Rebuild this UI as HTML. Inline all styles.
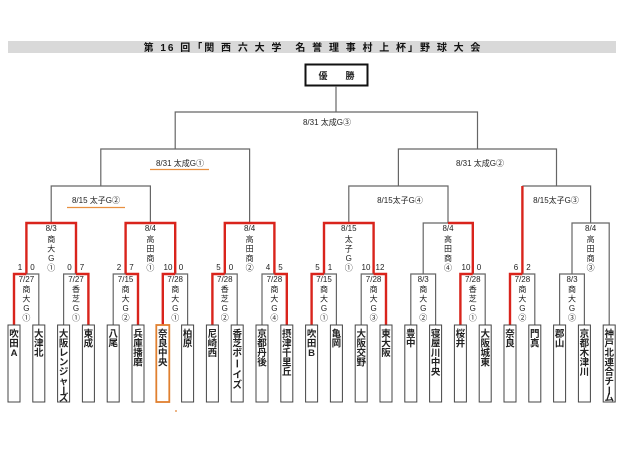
<!DOCTYPE html>
<html><head><meta charset="utf-8"><style>
html,body{margin:0;padding:0;background:#fff;width:640px;height:452px;overflow:hidden}
svg{display:block}
text{font-family:"Liberation Sans","Noto Sans CJK JP",sans-serif;fill:#222}
.s{font-size:8px;text-anchor:middle}
.t{font-size:9.5px;font-weight:bold;text-anchor:middle;fill:#222}
.g{stroke:#666;stroke-width:1.2;fill:none}
.r{stroke:#d9241c;stroke-width:2.4;fill:none}
.b{stroke:#444;stroke-width:1;fill:#fff}
</style></head><body>
<svg width="640" height="452" viewBox="0 0 640 452">
<rect x="8" y="41" width="608" height="12" fill="#d9d9d9"/>
<text x="313" y="51" style="font-size:10px;font-weight:bold;text-anchor:middle;fill:#111;letter-spacing:2px" xml:space="preserve">第 16 回「関 西 六 大 学　名 誉 理 事 村 上 杯」野 球 大 会</text>
<rect x="305.5" y="64.5" width="62" height="21" fill="#fff" stroke="#111" stroke-width="2"/>
<text x="323" y="79" style="font-size:9px;font-weight:bold;text-anchor:middle">優</text>
<text x="350" y="79" style="font-size:9px;font-weight:bold;text-anchor:middle">勝</text>

<path class="g" d="M336 86V112M175.2 149V112H477.5V149"/>
<text class="s" x="327" y="125">8/31  太成G③</text>
<path class="g" d="M100.8 186V149H249.6V223"/>
<path class="g" d="M398.4 186V149H556.5V186"/>
<text class="s" x="180" y="166">8/31  太成G①</text>
<line x1="150" y1="169.5" x2="209" y2="169.5" stroke="#e89040" stroke-width="1.3"/>
<text class="s" x="480" y="166">8/31  太成G②</text>
<path class="g" d="M51.2 223V186H150.4V223"/>
<text class="s" x="96" y="203">8/15  太子G②</text>
<line x1="67" y1="207.5" x2="125" y2="207.5" stroke="#e89040" stroke-width="1.3"/>
<path class="g" d="M348.8 223V186H448V223"/>
<text class="s" x="400" y="203">8/15太子G④</text>
<path class="g" d="M522.4 186H590.6V223"/>
<path class="r" d="M522.4 274V186"/>
<text class="s" x="556" y="203">8/15太子G③</text>

<path class="r" d="M26.4 274V223H76V274"/>
<path class="r" d="M125.6 274V223H175.2V274"/>
<path class="r" d="M224.8 274V223H274.4V274"/>
<path class="r" d="M324 274V223H373.6V274"/>
<path class="g" d="M423.2 274V223H448"/>
<path class="r" d="M448 223H472.8V274"/>
<path class="g" d="M572 274V223H609.2V325"/>

<g class="s">
<text x="51.2" y="231">8/3</text><text x="51.2" y="242">商</text><text x="51.2" y="251.5">大</text><text x="51.2" y="261">G</text><text x="51.2" y="270.5">①</text>
<text x="150.4" y="231">8/4</text><text x="150.4" y="242">高</text><text x="150.4" y="251.5">田</text><text x="150.4" y="261">商</text><text x="150.4" y="270.5">①</text>
<text x="249.6" y="231">8/4</text><text x="249.6" y="242">高</text><text x="249.6" y="251.5">田</text><text x="249.6" y="261">商</text><text x="249.6" y="270.5">②</text>
<text x="348.8" y="231">8/15</text><text x="348.8" y="242">太</text><text x="348.8" y="251.5">子</text><text x="348.8" y="261">G</text><text x="348.8" y="270.5">①</text>
<text x="448" y="231">8/4</text><text x="448" y="242">高</text><text x="448" y="251.5">田</text><text x="448" y="261">商</text><text x="448" y="270.5">④</text>
<text x="590.6" y="231">8/4</text><text x="590.6" y="242">高</text><text x="590.6" y="251.5">田</text><text x="590.6" y="261">商</text><text x="590.6" y="270.5">③</text>
</g>

<path class="g" d="M26.4 274H38.8V325"/><path class="r" d="M14 325V274H26.4"/>
<path class="g" d="M63.6 325V274H76"/><path class="r" d="M76 274H88.4V325"/>
<path class="g" d="M113.2 325V274H125.6"/><path class="r" d="M125.6 274H138V325"/>
<path class="g" d="M175.2 274H187.6V325"/><path class="r" d="M162.8 325V274H175.2"/>
<path class="g" d="M224.8 274H237.2V325"/><path class="r" d="M212.4 325V274H224.8"/>
<path class="g" d="M262 325V274H274.4"/><path class="r" d="M274.4 274H286.8V325"/>
<path class="g" d="M324 274H336.4V325"/><path class="r" d="M311.6 325V274H324"/>
<path class="g" d="M361.2 325V274H373.6"/><path class="r" d="M373.6 274H386V325"/>
<path class="g" d="M410.8 325V274H435.6V325"/>
<path class="g" d="M472.8 274H485.2V325"/><path class="r" d="M460.4 325V274H472.8"/>
<path class="g" d="M522.4 274H534.8V325"/><path class="r" d="M510 325V274H522.4"/>
<path class="g" d="M559.6 325V274H584.4V325"/>

<g class="s">
<text x="20" y="270">1</text><text x="32.5" y="270">0</text>
<text x="69.5" y="270">0</text><text x="82" y="270">7</text>
<text x="119" y="270">2</text><text x="131.5" y="270">7</text>
<text x="168" y="270">10</text><text x="181" y="270">0</text>
<text x="218.5" y="270">5</text><text x="231" y="270">0</text>
<text x="268" y="270">4</text><text x="280.5" y="270">5</text>
<text x="317.5" y="270">5</text><text x="330" y="270">1</text>
<text x="366" y="270">10</text><text x="380" y="270">12</text>
<text x="466" y="270">10</text><text x="479" y="270">0</text>
<text x="516" y="270">6</text><text x="528.5" y="270">2</text>

<text x="26.4" y="282">7/27</text><text x="26.4" y="292">商</text><text x="26.4" y="301.5">大</text><text x="26.4" y="311">G</text><text x="26.4" y="320.5">①</text>
<text x="76" y="282">7/27</text><text x="76" y="292">香</text><text x="76" y="301.5">芝</text><text x="76" y="311">G</text><text x="76" y="320.5">①</text>
<text x="125.6" y="282">7/15</text><text x="125.6" y="292">商</text><text x="125.6" y="301.5">大</text><text x="125.6" y="311">G</text><text x="125.6" y="320.5">②</text>
<text x="175.2" y="282">7/28</text><text x="175.2" y="292">商</text><text x="175.2" y="301.5">大</text><text x="175.2" y="311">G</text><text x="175.2" y="320.5">①</text>
<text x="224.8" y="282">7/28</text><text x="224.8" y="292">香</text><text x="224.8" y="301.5">芝</text><text x="224.8" y="311">G</text><text x="224.8" y="320.5">②</text>
<text x="274.4" y="282">7/28</text><text x="274.4" y="292">商</text><text x="274.4" y="301.5">大</text><text x="274.4" y="311">G</text><text x="274.4" y="320.5">④</text>
<text x="324" y="282">7/15</text><text x="324" y="292">商</text><text x="324" y="301.5">大</text><text x="324" y="311">G</text><text x="324" y="320.5">①</text>
<text x="373.6" y="282">7/28</text><text x="373.6" y="292">商</text><text x="373.6" y="301.5">大</text><text x="373.6" y="311">G</text><text x="373.6" y="320.5">③</text>
<text x="423.2" y="282">8/3</text><text x="423.2" y="292">商</text><text x="423.2" y="301.5">大</text><text x="423.2" y="311">G</text><text x="423.2" y="320.5">②</text>
<text x="472.8" y="282">7/28</text><text x="472.8" y="292">香</text><text x="472.8" y="301.5">芝</text><text x="472.8" y="311">G</text><text x="472.8" y="320.5">①</text>
<text x="522.4" y="282">7/28</text><text x="522.4" y="292">商</text><text x="522.4" y="301.5">大</text><text x="522.4" y="311">G</text><text x="522.4" y="320.5">②</text>
<text x="572" y="282">8/3</text><text x="572" y="292">商</text><text x="572" y="301.5">大</text><text x="572" y="311">G</text><text x="572" y="320.5">③</text>
</g>

<g>
<rect class="b" x="8" y="325" width="12" height="77"/>
<rect class="b" x="32.8" y="325" width="12" height="77"/>
<rect class="b" x="57.6" y="325" width="12" height="77"/>
<rect class="b" x="82.4" y="325" width="12" height="77"/>
<rect class="b" x="107.2" y="325" width="12" height="77"/>
<rect class="b" x="132" y="325" width="12" height="77"/>
<rect x="156.3" y="325" width="13" height="77" fill="#fff" stroke="#e08030" stroke-width="1.8"/>
<rect class="b" x="181.6" y="325" width="12" height="77"/>
<rect class="b" x="206.4" y="325" width="12" height="77"/>
<rect class="b" x="231.2" y="325" width="12" height="77"/>
<rect class="b" x="256" y="325" width="12" height="77"/>
<rect class="b" x="280.8" y="325" width="12" height="77"/>
<rect class="b" x="305.6" y="325" width="12" height="77"/>
<rect class="b" x="330.4" y="325" width="12" height="77"/>
<rect class="b" x="355.2" y="325" width="12" height="77"/>
<rect class="b" x="380" y="325" width="12" height="77"/>
<rect class="b" x="404.8" y="325" width="12" height="77"/>
<rect class="b" x="429.6" y="325" width="12" height="77"/>
<rect class="b" x="454.4" y="325" width="12" height="77"/>
<rect class="b" x="479.2" y="325" width="12" height="77"/>
<rect class="b" x="504" y="325" width="12" height="77"/>
<rect class="b" x="528.8" y="325" width="12" height="77"/>
<rect class="b" x="553.6" y="325" width="12" height="77"/>
<rect class="b" x="578.4" y="325" width="12" height="77"/>
<rect class="b" x="603.2" y="325" width="12" height="77"/>
</g>
<circle cx="176" cy="411" r="0.9" fill="#e08030"/>

<g class="t">
<text x="14" y="337">吹</text><text x="14" y="346.5">田</text><text x="14" y="356">A</text>
<text x="38.8" y="337">大</text><text x="38.8" y="346.5">津</text><text x="38.8" y="356">北</text>
<text x="63.6" y="337">大</text><text x="63.6" y="346.5">阪</text><text x="63.6" y="356">レ</text><text x="63.6" y="365.5">ン</text><text x="63.6" y="375">ジ</text><text x="63.6" y="384.5">ャ</text><text x="63.6" y="394" transform="rotate(90 63.6 390.5)">ー</text><text x="63.6" y="401">ズ</text>
<text x="88.4" y="337">東</text><text x="88.4" y="346.5">成</text>
<text x="113.2" y="337">八</text><text x="113.2" y="346.5">尾</text>
<text x="138" y="337">兵</text><text x="138" y="346.5">庫</text><text x="138" y="356">播</text><text x="138" y="365.5">磨</text>
<text x="162.8" y="337">奈</text><text x="162.8" y="346.5">良</text><text x="162.8" y="356">中</text><text x="162.8" y="365.5">央</text>
<text x="187.6" y="337">柏</text><text x="187.6" y="346.5">原</text>
<text x="212.4" y="337">尼</text><text x="212.4" y="346.5">崎</text><text x="212.4" y="356">西</text>
<text x="237.2" y="337">香</text><text x="237.2" y="346.5">芝</text><text x="237.2" y="356">ボ</text><text x="237.2" y="367" transform="rotate(90 237.2 363.5)">ー</text><text x="237.2" y="378">イ</text><text x="237.2" y="388">ズ</text>
<text x="262" y="337">京</text><text x="262" y="346.5">都</text><text x="262" y="356">丹</text><text x="262" y="365.5">後</text>
<text x="286.8" y="337">摂</text><text x="286.8" y="346.5">津</text><text x="286.8" y="356">千</text><text x="286.8" y="365.5">里</text><text x="286.8" y="375">丘</text>
<text x="311.6" y="337">吹</text><text x="311.6" y="346.5">田</text><text x="311.6" y="356">B</text>
<text x="336.4" y="337">亀</text><text x="336.4" y="346.5">岡</text>
<text x="361.2" y="337">大</text><text x="361.2" y="346.5">阪</text><text x="361.2" y="356">交</text><text x="361.2" y="365.5">野</text>
<text x="386" y="337">東</text><text x="386" y="346.5">大</text><text x="386" y="356">阪</text>
<text x="410.8" y="337">豊</text><text x="410.8" y="346.5">中</text>
<text x="435.6" y="337">寝</text><text x="435.6" y="346.5">屋</text><text x="435.6" y="356">川</text><text x="435.6" y="365.5">中</text><text x="435.6" y="375">央</text>
<text x="460.4" y="337">桜</text><text x="460.4" y="346.5">井</text>
<text x="485.2" y="337">大</text><text x="485.2" y="346.5">阪</text><text x="485.2" y="356">城</text><text x="485.2" y="365.5">東</text>
<text x="510" y="337">奈</text><text x="510" y="346.5">良</text>
<text x="534.8" y="337">門</text><text x="534.8" y="346.5">真</text>
<text x="559.6" y="337">郡</text><text x="559.6" y="346.5">山</text>
<text x="584.4" y="337">京</text><text x="584.4" y="346.5">都</text><text x="584.4" y="356">木</text><text x="584.4" y="365.5">津</text><text x="584.4" y="375">川</text>
<text x="609.2" y="337">神</text><text x="609.2" y="346.5">戸</text><text x="609.2" y="356">北</text><text x="609.2" y="365.5">連</text><text x="609.2" y="375">合</text><text x="609.2" y="384.5">チ</text><text x="609.2" y="394" transform="rotate(90 609.2 390.5)">ー</text><text x="609.2" y="401">ム</text>
</g>
</svg>
</body></html>
